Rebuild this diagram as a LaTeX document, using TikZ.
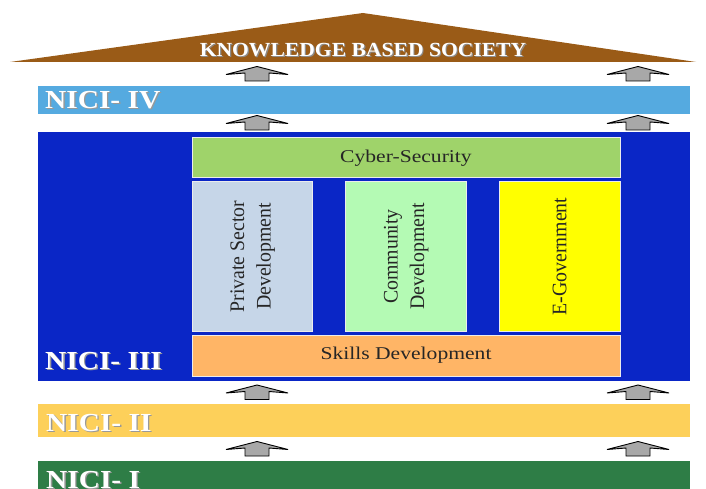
\documentclass[tikz,border=0pt]{standalone}
\usepackage{fontspec}
\setmainfont{Liberation Serif}
\usetikzlibrary{positioning,calc}

\definecolor{roofbrown}{HTML}{9A5B17}
\definecolor{niciiv}{HTML}{55AAE0}
\definecolor{niciiii}{HTML}{0A26C6}
\definecolor{niciii}{HTML}{FDD05A}
\definecolor{nicii}{HTML}{2E7D46}
\definecolor{cybergreen}{HTML}{9FD36A}
\definecolor{privblue}{HTML}{C6D6E8}
\definecolor{commgreen}{HTML}{B4FAB4}
\definecolor{govyellow}{HTML}{FFFF00}
\definecolor{skillorange}{HTML}{FFB566}
\definecolor{arrgray}{HTML}{A8A8A8}

\begin{document}
\begin{tikzpicture}[x=1pt,y=-1pt,
				bar/.style={rectangle, inner sep=0pt, minimum width=652pt},
				pillar/.style={rectangle, draw=white!85!gray, line width=1pt, inner sep=0pt,
					font=\fontsize{18}{27}\selectfont, text=black!85, align=center},
				nicilbl/.style={anchor=west, inner sep=0pt, text=white,
					font=\fontsize{26}{28}\selectfont\bfseries},
				rooflbl/.style={inner sep=0pt, font=\fontsize{20}{22}\selectfont\bfseries},
				blockarr/.pic={
					\draw[fill=arrgray, line width=0.9pt, line join=miter]
						(0,-7.5) -- (31,0.5) -- (12,-1) -- (12,7) -- (-12,7) -- (-12,-1) -- (-31,0.5) -- cycle;
				},
				]
				\clip (0,0) rectangle (706,489);
				\fill[white] (0,0) rectangle (706,489);

				%Roof
				\fill[roofbrown] (10,62) -- (363,13) -- (696,62) -- cycle;
				\node[inner sep=0pt, minimum size=0pt] (roofbase) at (363,62) {};
				\node[rooflbl, text=black!45] (roofs) at (364.2,51.2) {\scalebox{1.08}[1]{KNOWLEDGE BASED SOCIETY}};
				\node[rooflbl, text=white] (roof) at (363,50) {\scalebox{1.08}[1]{KNOWLEDGE BASED SOCIETY}};

				%Bars
				\node[bar, fill=niciiv,  minimum height=28pt]  (n4) at (364,100)   {};
				\node[bar, fill=niciiii, minimum height=249pt] (n3) at (364,256.5) {};
				\node[bar, fill=niciii,  minimum height=33pt]  (n2) at (364,420.5) {};
				\node[bar, fill=nicii,   minimum height=50pt]  (n1) at (364,486)   {};

				%Pillars
				\node[pillar, fill=cybergreen,  minimum width=428pt, minimum height=40pt] (cyber) at (406,158) {\scalebox{1.2}[1]{Cyber-Security}};
				\node[pillar, fill=privblue,    minimum width=149pt, minimum height=120pt, rotate=90] (priv) at (252,256.5)
					{\scalebox{1.1}[1.15]{\fontsize{18}{23}\selectfont\begin{tabular}{@{}c@{}}Private Sector\\Development\end{tabular}}};
				\node[pillar, fill=commgreen,   minimum width=149pt, minimum height=121pt, rotate=90] (comm) at (405.5,256.5)
					{\scalebox{1.1}[1.15]{\fontsize{18}{23}\selectfont\begin{tabular}{@{}c@{}}Community\\Development\end{tabular}}};
				\node[pillar, fill=govyellow,   minimum width=149pt, minimum height=121pt, rotate=90] (egov) at (559.5,256.5)
					{\scalebox{1.1}[1.15]{E-Government}};
				\node[pillar, fill=skillorange, minimum width=428pt, minimum height=41pt] (skill) at (406,355.5) {\scalebox{1.2}[1]{Skills Development}};

				%Labels
				\foreach \x/\y/\txt [count=\i] in {45/100/NICI- IV, 45/361/NICI- III, 46/423/NICI- II, 46/480/NICI- I}{
					\node[nicilbl, text=black!40] (lbl\i s) at (\x+1.3,\y+1.3) {\scalebox{1.13}[1]{\txt}};
					\node[nicilbl] (lbl\i) at (\x,\y) {\scalebox{1.13}[1]{\txt}};
				}

				%Arrows
				\coordinate (xl) at (257,0);
				\coordinate (xr) at (638,0);
				\foreach \up/\dn in {roofbase/n4, n4/n3, n3/n2, n2/n1}{
					\coordinate (gap) at ($(\up.south)!0.5!(\dn.north)$);
					\pic at (xl |- gap) {blockarr};
					\pic at (xr |- gap) {blockarr};
				}
\end{tikzpicture}
\end{document}
